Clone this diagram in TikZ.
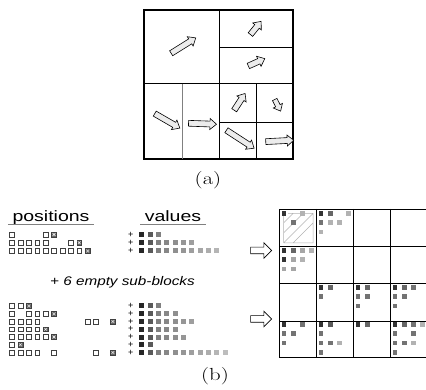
\documentclass[tikz,border=0pt]{standalone}
\usepackage{fontspec}
\usepackage{xcolor}
\usepackage{graphicx}
\usetikzlibrary{shapes.arrows}
\newfontfamily\labelfont{Liberation Sans}
\newcommand{\wide}[2][1.3]{\scalebox{#1}[1]{#2}}

% one row of the position stream: y, open columns, crossed column
\newcommand{\posrow}[3]{%
  \foreach \c in {#2}
    \draw[posbox] ({12+8.4*\c-2.4},{#1-2.4}) rectangle +(4.8,4.8);
  \draw[posbox, fill=black!60] ({12+8.4*#3-2.4},{#1-2.4}) rectangle +(4.8,4.8);
  \draw[white, line width=0.4pt] ({12+8.4*#3-1.4},{#1-1.4}) -- +(2.8,2.8)
    ({12+8.4*#3-1.4},{#1+1.4}) -- +(2.8,-2.8);
}
% one row of the value stream: y, number of values
\newcommand{\valrow}[2]{%
  \foreach \c in {1,...,#2}{
    \pgfmathtruncatemacro{\shade}{\c==1 ? 85 : (\c==2 ? 65 : 59-3*\c)}
    \fill[black!\shade] ({141.7+8.33*(\c-1)-2.5},{#1-2.5}) rectangle +(5,5);
  }
}

\begin{document}
\begin{tikzpicture}[x=1pt, y=-1pt,
    blockarrow/.style={single arrow, draw, line width=0.6pt, fill=gray!15,
      inner xsep=0pt, inner ysep=2.6pt, single arrow head extend=2.6pt,
      single arrow tip angle=80},
    openarrow/.style={single arrow, draw, line width=0.6pt, fill=white,
      inner xsep=0pt, inner ysep=3pt, minimum height=21pt,
      single arrow head extend=4.5pt, single arrow tip angle=90},
    posbox/.style={draw=black!75, line width=0.5pt, fill=white},
    heading/.style={anchor=base, font=\labelfont\fontsize{15}{15}\selectfont},
    caption/.style={font=\fontsize{17.5}{17.5}\selectfont}]

    \useasboundingbox (0,0) rectangle (426,390);

    % (a) quadtree of blocks
    \draw[line width=1.2pt] (144,10) rectangle (293,159);
    \draw[line width=1pt] (219,10) -- (219,159) (144,84) -- (293,84);
    \draw[line width=0.9pt] (219,47) -- (293,47) (256,84) -- (256,159) (219,122) -- (293,122);
    \draw[gray, line width=0.9pt] (182,84) -- (182,159);

    % block directions
    \node[blockarrow, minimum height=29pt, rotate=32] (dir1) at (182,46.5) {};
    \node[blockarrow, minimum height=17pt, rotate=51] (dir2) at (254.7,29.3) {};
    \node[blockarrow, minimum height=18pt, rotate=24] (dir3) at (255,63) {};
    \node[blockarrow, minimum height=29pt, rotate=-30] (dir4) at (165.8,120) {};
    \node[blockarrow, minimum height=28pt, rotate=-2] (dir5) at (200.8,123.7) {};
    \node[blockarrow, minimum height=20pt, rotate=57] (dir6) at (238.7,103.3) {};
    \node[blockarrow, minimum height=13pt, inner ysep=2.2pt, rotate=-63] (dir7) at (277,104) {};
    \node[blockarrow, minimum height=33pt, rotate=-33] (dir8) at (238.8,138.3) {};
    \node[blockarrow, minimum height=28pt, rotate=3] (dir9) at (278,141) {};

    \node[caption] (capa) at (208,180) {\wide{(a)}};

    % (b) headings
    \node[heading] (positions) at (51,221.5) {\wide{positions}};
    \node[heading] (values) at (173,221.5) {\wide{values}};
    \draw[gray, line width=0.8pt] ([xshift=-1pt,yshift=-2.5pt]positions.base west)
      -- ([xshift=1pt,yshift=-2.5pt]positions.base east);
    \draw[gray, line width=0.8pt] ([xshift=-1pt,yshift=-2.5pt]values.base west)
      -- ([xshift=1pt,yshift=-2.5pt]values.base east);

    % first sub-block stream
    \posrow{234.5}{0,4}{5}
    \posrow{242.7}{0,...,4,7}{8}
    \posrow{251}{0,...,8}{9}
    \valrow{234.5}{3}
    \valrow{242.7}{7}
    \valrow{251}{10}

    \node[anchor=base, font=\labelfont\itshape\fontsize{12.5}{12.5}\selectfont] (empty)
      at (122.5,286) {\wide[1.22]{+ 6 empty sub-blocks}};

    % second sub-block stream
    \posrow{306}{0,1}{2}
    \posrow{313.8}{0,2,3,4}{5}
    \posrow{321.5}{0,1,2,3,9,10}{12}
    \posrow{329.3}{0,...,3}{4}
    \posrow{337}{0,...,4}{5}
    \posrow{344.8}{0}{1}
    \posrow{352.5}{0,...,3,5,...,10}{12}
    \valrow{306}{3}
    \valrow{313.8}{5}
    \valrow{321.5}{7}
    \valrow{329.3}{5}
    \valrow{337}{6}
    \valrow{344.8}{2}
    \valrow{352.5}{11}

    \foreach \y [count=\i] in {234.5,242.7,251,306,313.8,321.5,329.3,337,344.8,352.5}
      \node[font=\labelfont\fontsize{9}{9}\selectfont, inner sep=0pt] (plus\i) at (130.7,\y) {+};

    \node[openarrow] (arrtop) at (259.5,250.5) {};
    \node[openarrow] (arrbot) at (259.5,319) {};

    % (b) block grid
    \draw[line width=0.9pt] (279,209) rectangle (426,357);
    \foreach \x in {316,353,390} \draw[line width=0.8pt] (\x,209) -- (\x,357);
    \foreach \y in {246,283,321} \draw[line width=0.8pt] (279,\y) -- (426,\y);

    % symmetric diagonal block
    \draw[gray!60, line width=0.5pt] (288,213.5) -- (313,213.5) -- (313,243) -- (283.5,243)
      (283.5,233) -- (303,213.5) (283.5,243) -- (313,213.5) (293,243) -- (313,223)
      (283.5,223) -- (293,213.5) (283.5,213.5) -- (283.5,243);

    % stored entries: column/row/shade
    \foreach \k/\r/\s in {0/0/80, 2/0/30, 1/1/55,
        4/0/80, 5/0/60, 7/0/30, 4/1/55, 5/1/30, 6/1/30, 4/2/30,
        0/4/80, 1/4/60, 2/4/35, 3/4/30, 0/5/80, 1/5/35, 2/5/30, 0/6/35, 1/6/35,
        4/8/80, 5/8/60, 4/9/55,
        8/8/80, 9/8/60, 8/9/55, 9/9/55, 8/10/55,
        12/8/80, 13/8/60, 14/8/55, 12/9/55, 13/9/55, 12/10/55,
        0/12/80, 2/12/55, 0/13/55, 1/13/55, 0/14/55,
        4/12/80, 5/12/65, 4/13/55, 4/14/55, 5/14/55, 6/14/30, 4/15/55,
        8/12/80, 9/12/60,
        12/12/80, 13/12/60, 14/12/55, 15/12/30, 12/13/55, 14/13/55,
        12/14/55, 13/14/55, 14/14/30, 12/15/55}
      \fill[black!\s] ({284+9.25*\k-2.4},{213.5+9.25*\r-2.4}) rectangle +(4.8,4.8);

    \node[caption] (capb) at (215,376.5) {\wide{(b)}};
\end{tikzpicture}
\end{document}
